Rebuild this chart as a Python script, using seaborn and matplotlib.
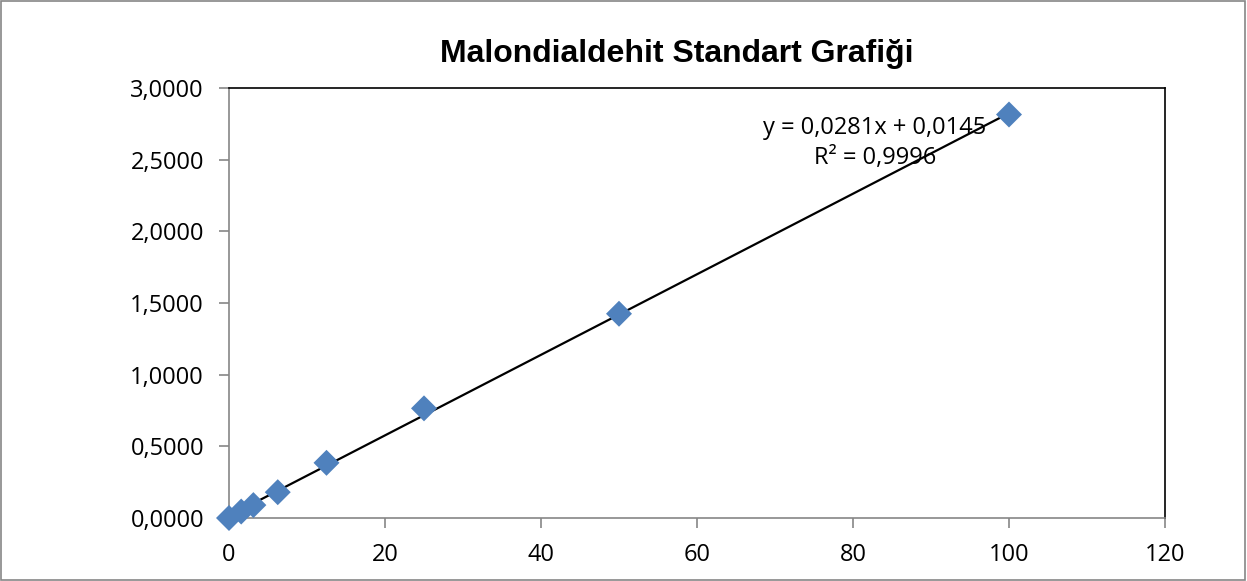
import numpy as np
import pandas as pd
import matplotlib.pyplot as plt
import seaborn as sns

# Standard curve data
concentration = [0, 1.5625, 3.125, 6.25, 12.5, 25, 50, 100]
absorbance = [0.0, 0.045, 0.09, 0.18, 0.385, 0.765, 1.425, 2.815]
slope, intercept = 0.0281, 0.0145
r_squared = "0,9996"
fit_x = [0, 100]
y_ticks = [0, 0.5, 1.0, 1.5, 2.0, 2.5, 3.0]
x_ticks = [0, 20, 40, 60, 80, 100, 120]

sns.set_theme(style="white")
plt.rcParams['font.family'] = ['Open Sans', 'DejaVu Sans']
plt.rcParams['text.color'] = 'black'

df = pd.DataFrame({'x': concentration, 'y': absorbance})
fit_df = pd.DataFrame({'x': fit_x, 'y': [slope * v + intercept for v in fit_x]})

fig = plt.figure(figsize=(12.47, 5.81), dpi=100)
ax = fig.add_axes([229 / 1247, 1 - 518 / 581, (1165 - 229) / 1247, (518 - 88) / 581])

sns.lineplot(data=fit_df, x='x', y='y', ax=ax, color='black', linewidth=1.6, zorder=2)
sns.scatterplot(data=df, x='x', y='y', ax=ax, marker='D', s=175, color='#4F81BD',
                edgecolor='none', zorder=3, clip_on=False)

ax.set_xlim(0, 120)
ax.set_ylim(0, 3)
ax.set_xticks(x_ticks)
ax.set_yticks(y_ticks)
ax.set_yticklabels([f"{v:.4f}".replace('.', ',') for v in y_ticks])
ax.set_xlabel('')
ax.set_ylabel('')
ax.tick_params(axis='both', direction='out', length=7, width=1.2, color='#868686',
               labelcolor='black', labelsize=17, pad=11, left=True, bottom=True)

for side in ['top', 'right']:
    ax.spines[side].set_color('black')
    ax.spines[side].set_linewidth(1.2)
for side in ['left', 'bottom']:
    ax.spines[side].set_color('#868686')
    ax.spines[side].set_linewidth(1.2)

fig.text(677 / 1247, 1 - 54 / 581, 'Malondialdehit Standart Grafiği', ha='center', va='center',
         fontsize=23, fontweight='bold', color='black', family=['Liberation Sans', 'DejaVu Sans'])

eq = f"y = {str(slope).replace('.', ',')}x + {str(intercept).replace('.', ',')}\nR² = {r_squared}"
ax.text(0.690, 0.872, eq, transform=ax.transAxes, ha='center', va='center',
        fontsize=17, linespacing=1.35, color='black')

# outer chart border
fig.patches.append(plt.Rectangle((0.001, 0.002), 0.997, 0.996, transform=fig.transFigure,
                                 fill=False, edgecolor='#868686', linewidth=1.2))

fig.savefig('out.png', dpi=100)
